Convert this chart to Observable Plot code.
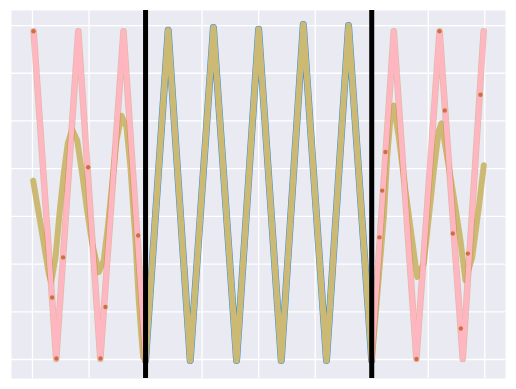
<!DOCTYPE html>
<html>
<head>
<meta charset="utf-8">
<script src="https://cdn.jsdelivr.net/npm/d3@7"></script>
<script src="https://cdn.jsdelivr.net/npm/@observablehq/plot@0.6"></script>
<style>
  html, body { margin: 0; padding: 0; background: #ffffff; }
  #chart { width: 516px; height: 389px; }
</style>
</head>
<body>
<div id="chart"></div>
<script>
// Grid ticks (no labels shown in the reference)
const xTicks = [0, 1, 2, 3, 4, 5, 6, 7, 8];
const yTicks = [0, 1, 2, 3, 4, 5, 6, 7];
// Region boundaries (black vertical lines)
const boundaries = [2, 6];

// True triangle wave: vertices (peaks and troughs)
const waveX = [0.02, 0.42, 0.81, 1.20, 1.61, 2.00, 2.40, 2.79, 3.20, 3.61, 4.00,
               4.40, 4.79, 5.20, 5.59, 6.00, 6.39, 6.79, 7.20, 7.61, 7.98];
const waveY = [6.88, 0.01, 6.88, 0.01, 6.88, -0.02, 6.90, -0.02, 6.96, -0.02, 6.92,
               -0.02, 7.02, -0.02, 7.00, -0.02, 6.88, 0.01, 6.88, 0.01, 6.88];

// Model output outside the training window (left)
const fitLeftX = [0.012, 0.111, 0.200, 0.288, 0.331, 0.407, 0.483, 0.554, 0.624, 0.702,
                  0.791, 0.879, 0.967, 1.056, 1.173, 1.261, 1.332, 1.410, 1.486, 1.574,
                  1.663, 1.733, 1.822, 1.880, 1.923, 1.958];
const fitLeftY = [3.75, 3.06, 2.43, 1.80, 1.62, 2.14, 3.12, 3.90, 4.53, 4.82,
                  4.59, 3.90, 3.12, 2.43, 1.83, 2.08, 2.77, 3.69, 4.59, 5.11,
                  4.87, 4.03, 2.49, 1.24, 0.55, 0.05];
// Model output outside the training window (right)
const fitRightX = [6.125, 6.213, 6.273, 6.332, 6.390, 6.479, 6.597, 6.716, 6.804, 6.921,
                   7.009, 7.098, 7.186, 7.234, 7.335, 7.452, 7.570, 7.658, 7.777, 7.894, 7.982];
const fitRightY = [1.73, 2.98, 4.24, 5.08, 5.32, 4.66, 3.54, 2.49, 1.73, 2.01,
                   2.98, 3.96, 4.80, 4.95, 4.24, 3.40, 2.49, 1.66, 2.14, 3.19, 4.07];

// Darker orange samples visible on the pink strands
const dotX = [0.018, 0.424, 1.203, 0.348, 0.543, 0.985, 1.291, 1.869, 6.243, 6.185, 6.137,
              7.198, 6.792, 7.292, 7.924, 7.700, 7.434, 7.576];
const dotY = [6.88, 0.02, 0.02, 1.30, 2.14, 4.03, 1.10, 2.60, 4.35, 3.54, 2.56,
              6.88, 0.01, 5.22, 5.55, 2.22, 2.64, 0.65];

const wave = waveX.map((x, i) => ({x, y: waveY[i]}));
const pinkLeft = wave.filter(d => d.x <= 2.0);
const pinkRight = wave.filter(d => d.x >= 6.0);
const blueMid = wave.filter(d => d.x >= 2.0 && d.x <= 6.0);
const khaki = [
  ...fitLeftX.map((x, i) => ({x, y: fitLeftY[i]})),
  ...blueMid,
  ...fitRightX.map((x, i) => ({x, y: fitRightY[i]}))
];
const dots = dotX.map((x, i) => ({x, y: dotY[i]}));

const lineOpts = {x: "x", y: "y", strokeLinejoin: "round", strokeLinecap: "round"};

const chart = Plot.plot({
  width: 516,
  height: 389,
  marginLeft: 11,
  marginRight: 11,
  marginTop: 10,
  marginBottom: 11,
  x: {domain: [-0.371, 8.366], axis: null},
  y: {domain: [-0.398, 7.315], axis: null},
  style: {background: "#ffffff"},
  marks: [
    Plot.frame({fill: "#EAEAF2", stroke: null}),
    Plot.ruleX(xTicks, {stroke: "#ffffff", strokeWidth: 1.3}),
    Plot.ruleY(yTicks, {stroke: "#ffffff", strokeWidth: 1.3}),
    Plot.line(blueMid, {...lineOpts, stroke: "#3b8fd8", strokeWidth: 7}),
    Plot.line(khaki, {...lineOpts, stroke: "#CCB974", strokeWidth: 6}),
    Plot.line(pinkLeft, {...lineOpts, stroke: "#d0733a", strokeOpacity: 0.4, strokeWidth: 6.5}),
    Plot.line(pinkRight, {...lineOpts, stroke: "#d0733a", strokeOpacity: 0.4, strokeWidth: 6.5}),
    Plot.line(pinkLeft, {...lineOpts, stroke: "#FFB6C1", strokeWidth: 5}),
    Plot.line(pinkRight, {...lineOpts, stroke: "#FFB6C1", strokeWidth: 5}),
    Plot.dot(dots, {x: "x", y: "y", r: 2.2, fill: "#c8622a", fillOpacity: 0.85, stroke: null}),
    Plot.ruleX(boundaries, {stroke: "#000000", strokeWidth: 5})
  ]
});
document.getElementById("chart").appendChild(chart);
</script>
</body>
</html>
